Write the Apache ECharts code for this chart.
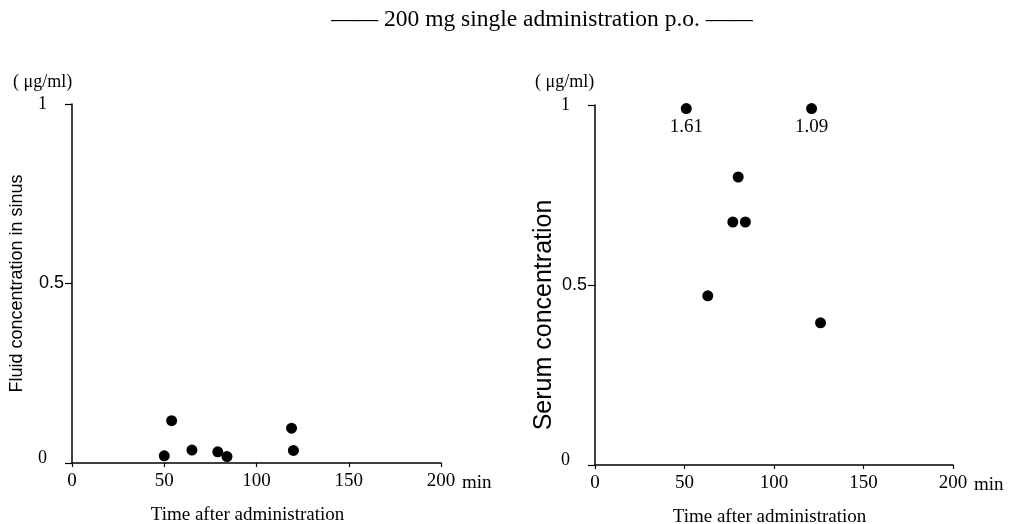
<!DOCTYPE html>
<html><head><meta charset="utf-8">
<script src="https://cdn.jsdelivr.net/npm/echarts@6/dist/echarts.min.js"></script>
<style>html,body{margin:0;padding:0;background:#fff}#c{width:1021px;height:524px}</style>
</head><body><div id="c"></div>
<script>
// ---- data ----
const chartTitle = '200 mg single administration p.o.';
const unitLabel = '( \u03bcg/ml)';
const xAxisTitle = 'Time after administration';
const xUnit = 'min';
const leftYTitle = 'Fluid concentration in sinus';
const rightYTitle = 'Serum concentration';
const xTicks = [0, 50, 100, 150, 200];
const yTicks = [0, 0.5, 1];
const sinusTime = [50, 54, 65, 79, 84, 119, 120];
const sinusConc = [0.02, 0.118, 0.036, 0.031, 0.018, 0.097, 0.035];
const serumTime = [51, 63, 77, 80, 84, 121, 126];
const serumConc = [1.61, 0.47, 0.675, 0.80, 0.675, 1.09, 0.395];
const offScaleCap = 0.99; // off-scale values are drawn at the top edge, value printed below

const SERIF = 'Liberation Serif';
const SANS = 'Liberation Sans';
const INK = '#000';

function yLabel(v) {
  if (v === 0.5) return '{s|0.5}';
  if (v === 0) return '{z|0}';
  return '{r|' + v + '}';
}
function yAxis(gi, name, nameSize, namePad, nameGap) {
  return {
    gridIndex: gi, type: 'value', min: yTicks[0], max: yTicks[yTicks.length - 1], interval: 0.5,
    axisLine: { show: true, lineStyle: { color: INK, width: 1.5 } },
    axisTick: { show: true, length: 7, lineStyle: { color: INK, width: 1.2 } },
    splitLine: { show: false },
    axisLabel: {
      margin: 8, formatter: yLabel,
      rich: {
        s: { fontFamily: SANS, fontSize: 18, color: INK },
        r: { fontFamily: SERIF, fontSize: 18, color: INK, padding: [0, 17, 0, 0] },
        z: { fontFamily: SERIF, fontSize: 18, color: INK, padding: [0, 17, 10, 0] }
      }
    },
    name: name, nameLocation: 'middle', nameGap: nameGap,
    nameTextStyle: { fontFamily: SANS, fontSize: nameSize, color: INK, padding: namePad }
  };
}
function xAxisMain(gi, pad) {
  return {
    gridIndex: gi, type: 'value', min: xTicks[0], max: xTicks[xTicks.length - 1], interval: 50,
    position: 'bottom',
    axisLine: { show: true, onZero: false, lineStyle: { color: INK, width: 1.5 } },
    axisTick: { show: true, length: 4, lineStyle: { color: INK, width: 1.2 } },
    splitLine: { show: false },
    axisLabel: { margin: 9, fontFamily: SERIF, fontSize: 19, color: INK },
    name: xAxisTitle, nameLocation: 'middle', nameGap: 43,
    nameTextStyle: { fontFamily: SERIF, fontSize: 19, color: INK, padding: pad }
  };
}
function xAxisUnit(gi) {
  return {
    gridIndex: gi, type: 'value', min: xTicks[0], max: xTicks[xTicks.length - 1], interval: 50,
    position: 'bottom',
    axisLine: { show: false }, axisTick: { show: false }, axisLabel: { show: false }, splitLine: { show: false },
    name: xUnit, nameLocation: 'end', nameGap: 21,
    nameTextStyle: { fontFamily: SERIF, fontSize: 19, color: INK, verticalAlign: 'top', padding: [11, 0, 0, 0] }
  };
}
const dot = { color: INK, opacity: 1 };
const option = {
  backgroundColor: '#fff',
  animation: false,
  title: [
    { text: '\u2014\u2014 ' + chartTitle + ' \u2014\u2014', left: 537, top: 3, textAlign: 'center',
      textStyle: { fontFamily: SERIF, fontSize: 23.5, fontWeight: 'normal', color: INK } },
    { text: unitLabel, left: 8, top: 68, textStyle: { fontFamily: SERIF, fontSize: 18, fontWeight: 'normal', color: INK } },
    { text: unitLabel, left: 530, top: 68, textStyle: { fontFamily: SERIF, fontSize: 18, fontWeight: 'normal', color: INK } }
  ],
  grid: [
    { left: 72, right: 1021 - 441, top: 104, bottom: 61, outerBoundsMode: 'none', containLabel: false },
    { left: 595, right: 1021 - 953, top: 105, bottom: 59, outerBoundsMode: 'none', containLabel: false }
  ],
  xAxis: [xAxisMain(0, [0, 18, 0, 0]), xAxisUnit(0), xAxisMain(1, [0, 9, 0, 0]), xAxisUnit(1)],
  yAxis: [yAxis(0, leftYTitle, 18, [0, 0, 0, 0], 46), yAxis(1, rightYTitle, 25, [0, 60, 0, 0], 38)],
  series: [
    { type: 'scatter', xAxisIndex: 0, yAxisIndex: 0, symbolSize: 11, itemStyle: dot,
      data: sinusTime.map((t, i) => [t, sinusConc[i]]) },
    { type: 'scatter', xAxisIndex: 2, yAxisIndex: 1, symbolSize: 11, itemStyle: dot,
      data: serumTime.map((t, i) => [t, Math.min(serumConc[i], offScaleCap), serumConc[i]]),
      label: {
        show: true, position: 'bottom', distance: 3, opacity: 1,
        fontFamily: SERIF, fontSize: 19, color: INK,
        formatter: p => (p.data[2] > yTicks[yTicks.length - 1] ? p.data[2].toFixed(2) : '')
      }
    }
  ]
};
const chart = echarts.init(document.getElementById('c'), null, { renderer: 'canvas' });
chart.setOption(option);
</script>
</body></html>
